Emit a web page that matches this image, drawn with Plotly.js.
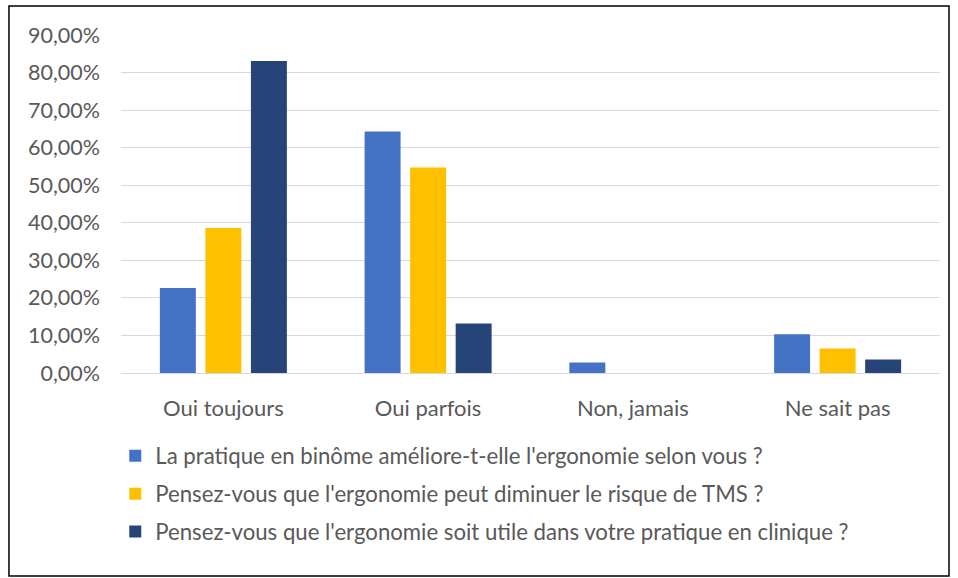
<!DOCTYPE html>
<html><head><meta charset="utf-8">
<script src="https://cdn.plot.ly/plotly-3.0.1.min.js"></script>
<style>body{margin:0;background:#fff}#chart{width:958px;height:578px}</style>
</head><body><div id="chart"></div>
<script>
var categories = ["Oui toujours", "Oui parfois", "Non, jamais", "Ne sait pas"];
var seriesNames = [
  "La pratique en binôme améliore-t-elle l'ergonomie selon vous ?",
  "Pensez-vous que l'ergonomie peut diminuer le risque de TMS ?",
  "Pensez-vous que l'ergonomie soit utile dans votre pratique en clinique ?"
];
var binome = [0.226, 0.643, 0.028, 0.103];
var tms = [0.386, 0.547, 0, 0.065];
var utile = [0.831, 0.132, 0, 0.036];
var colors = ["#4472C4", "#FFC000", "#264478"];
var tickVals = [0, 0.1, 0.2, 0.3, 0.4, 0.5, 0.6, 0.7, 0.8, 0.9];

var values = [binome, tms, utile];
var traces = values.map(function (v, i) {
  return {
    type: "bar", x: categories, y: v, name: seriesNames[i],
    legendgroup: "g" + i,
    marker: {color: colors[i]}, hoverinfo: "x+y"
  };
});
var font = "Lato, 'Liberation Sans Narrow', Calibri, Carlito, sans-serif";
var layout = {
  width: 958, height: 578,
  margin: {l: 121, r: 18, t: 35, b: 205},
  separators: ", ",
  barmode: "group", bargap: 0.333, bargroupgap: 0.21,
  paper_bgcolor: "#fff", plot_bgcolor: "#fff",
  font: {family: font, size: 22, color: "#595959"},
  xaxis: {showgrid: false, showline: true, linecolor: "#d9d9d9", linewidth: 1,
          ticks: "", ticklabelstandoff: 16, tickfont: {size: 22}},
  yaxis: {range: [0, 0.9], tickvals: tickVals, tickformat: ".2%",
          gridcolor: "#d9d9d9", gridwidth: 1, zeroline: false,
          ticks: "", ticklabelstandoff: 20, tickfont: {size: 21.5}},
  showlegend: true,
  legend: {orientation: "v", x: -0.007, xanchor: "left", y: -0.183, yanchor: "top",
           traceorder: "grouped", tracegroupgap: 6, font: {size: 22.2}},
  shapes: [{type: "rect", xref: "paper", yref: "paper",
            x0: -0.1368, x1: 1.011, y0: -0.6006, y1: 1.0858,
            line: {color: "#000", width: 1.5}}]
};
Plotly.newPlot("chart", traces, layout, {displayModeBar: false, staticPlot: true});
</script></body></html>
